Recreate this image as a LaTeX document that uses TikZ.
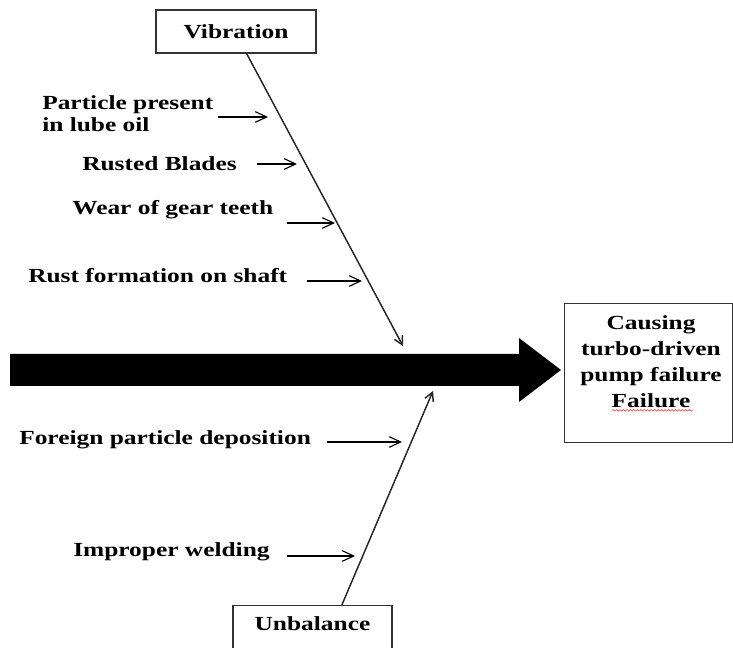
\documentclass[tikz,border=0pt]{standalone}
\usepackage{fontspec}
\setmainfont{Liberation Serif}[FakeStretch=1.27]
\usetikzlibrary{arrows.meta,positioning,calc,decorations.pathmorphing}
\newcommand\fishfont{\fontsize{15pt}{16.5pt}\selectfont\bfseries}
\tikzset{
  >={Straight Barb[length=3mm,width=2.8mm]},
  % fiskben
  cbox/.style={draw=black!80,line width=1pt,inner sep=0pt,font=\fishfont},
  lbl/.style={anchor=west,inner sep=0pt,align=left,font=\fishfont},
  efftext/.style={inner sep=0pt,align=center,
                  font=\fontsize{15pt}{19.5pt}\selectfont\bfseries},
  bone/.style={-{Straight Barb[length=2.2mm,width=2.4mm]},draw=black!85,line width=1.1pt},
  cause/.style={->,draw=black,line width=0.85pt},
  spine/.style={fill=black},
  squig/.style={draw=red!70,line width=0.5pt,decorate,
                decoration={snake,amplitude=0.6pt,segment length=2.6pt}},
}
\begin{document}
\begin{tikzpicture}[x=0.75pt,y=-0.75pt]
\clip (0,0) rectangle (733,648);
  % huvudpil
  \fill[spine] (10,354) -- (519,354) -- (519,338) -- (561,370)
               -- (519,402) -- (519,386) -- (10,386) -- cycle;
  \node[cbox,minimum width=120pt,minimum height=32.25pt] (vib) at (236,31.5) {Vibration};
  \node[cbox,anchor=north,minimum width=119.25pt,text height=18.5pt,text depth=40pt]
       (unb) at (312.5,605) {Unbalance};
  \node[cbox,anchor=north west,minimum width=126pt,minimum height=104.25pt] (eff) at (564,303) {};
  \node[efftext] (efft) at (651,362) {Causing\\turbo-driven\\pump failure\\Failure};
  \draw[squig] ($(efft.south)+(-39,2)$) -- ($(efft.south)+(42,2)$);
  \coordinate (vtip) at (403,346);
  \coordinate (utip) at (433,391);
  \draw[bone] ([xshift=8pt]vib.south) -- (vtip);
  \draw[bone] ([xshift=22pt]unb.north) -- (utip);
  % orsaker
  \node[lbl] (p1) at (42,114) {Particle present\\in lube oil};
  \node[lbl] (p2) at (82,164) {Rusted Blades};
  \node[lbl] (p3) at (72,210) {Wear of gear teeth};
  \node[lbl] (p4) at (28,276) {Rust formation on shaft};
  \node[lbl] (q1) at (19,440) {Foreign particle deposition};
  \node[lbl] (q2) at (73,552) {Improper welding};
  \coordinate (a1s) at (218,117); \coordinate (a1e) at (268,117);
  \coordinate (a2s) at (257,164); \coordinate (a2e) at (297,164);
  \coordinate (a3s) at (287,223); \coordinate (a3e) at (335,223);
  \coordinate (a4s) at (307,281); \coordinate (a4e) at (362,281);
  \coordinate (b1s) at (327,442); \coordinate (b1e) at (402,442);
  \coordinate (b2s) at (287,556); \coordinate (b2e) at (355,556);
  \draw[cause] (a1s) -- (a1e);
  \draw[cause] (a2s) -- (a2e);
  \draw[cause] (a3s) -- (a3e);
  \draw[cause] (a4s) -- (a4e);
  \draw[cause] (b1s) -- (b1e);
  \draw[cause] (b2s) -- (b2e);
\end{tikzpicture}
\end{document}
